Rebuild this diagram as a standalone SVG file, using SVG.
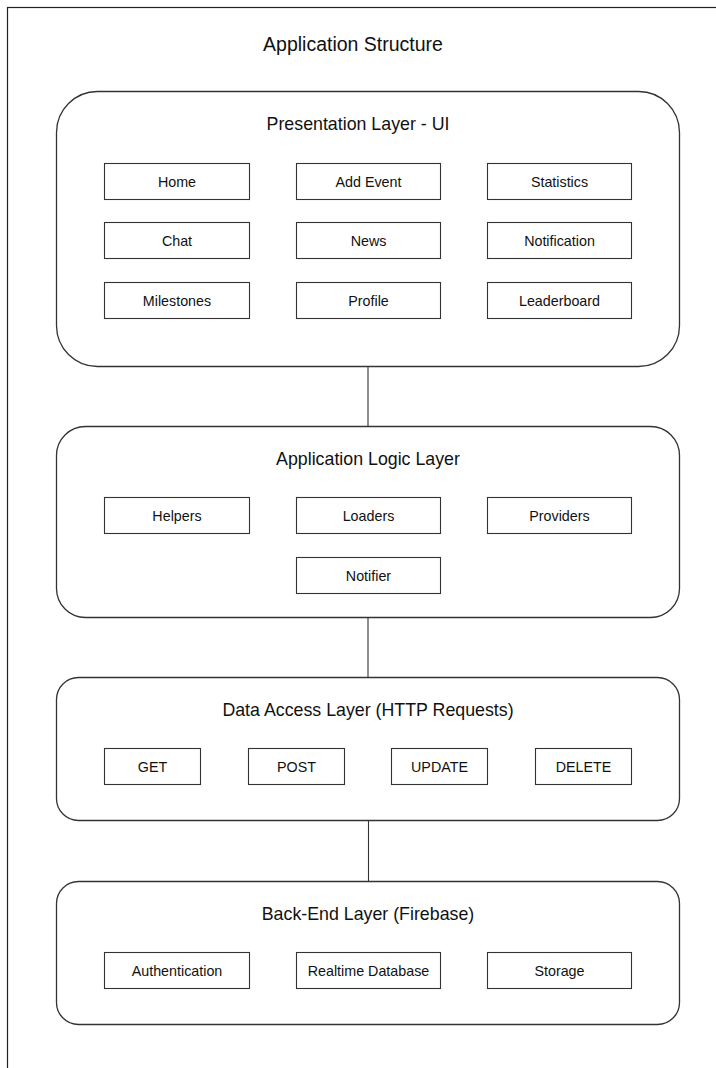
<svg xmlns="http://www.w3.org/2000/svg" width="716" height="1068" viewBox="0 0 716 1068">
  <style>
    .frame { fill: none; stroke: #222; stroke-width: 1.2; }
    .layer { fill: #fff; stroke: #333; stroke-width: 1.3; }
    .box { fill: #fff; stroke: #333; stroke-width: 1.1; }
    .conn { fill: none; stroke: #333; stroke-width: 1.1; }
    text { font-family: "Liberation Sans", Arial, sans-serif; fill: #111; text-anchor: middle; dominant-baseline: central; }
    .title { font-size: 19.5px; }
    .ltitle { font-size: 17.8px; }
    .lbl { font-size: 14.3px; }
  </style>

  <rect x="0" y="0" width="716" height="1068" fill="#fff"/>
  <!-- outer frame, extends past the right and bottom edges -->
  <rect class="frame" x="7.5" y="7.5" width="760" height="1100"/>
  <text class="title" x="353" y="44">Application Structure</text>

  <g id="connectors">
    <line class="conn" x1="368" y1="367" x2="368" y2="426"/>
    <line class="conn" x1="368" y1="617" x2="368" y2="677"/>
    <line class="conn" x1="368.5" y1="821" x2="368.5" y2="881"/>
  </g>

  <g id="presentation-layer">
    <rect class="layer" x="56.5" y="91.5" width="623" height="275" rx="41" ry="41"/>
    <text class="ltitle" x="358" y="124">Presentation Layer - UI</text>
    <g id="home"><rect class="box" x="104.5" y="163.5" width="145" height="36"/><text class="lbl" x="177" y="181.5">Home</text></g>
    <g id="add-event"><rect class="box" x="296.5" y="163.5" width="144" height="36"/><text class="lbl" x="368.5" y="181.5">Add Event</text></g>
    <g id="statistics"><rect class="box" x="487.5" y="163.5" width="144" height="36"/><text class="lbl" x="559.5" y="181.5">Statistics</text></g>
    <g id="chat"><rect class="box" x="104.5" y="222.5" width="145" height="36"/><text class="lbl" x="177" y="240.5">Chat</text></g>
    <g id="news"><rect class="box" x="296.5" y="222.5" width="144" height="36"/><text class="lbl" x="368.5" y="240.5">News</text></g>
    <g id="notification"><rect class="box" x="487.5" y="222.5" width="144" height="36"/><text class="lbl" x="559.5" y="240.5">Notification</text></g>
    <g id="milestones"><rect class="box" x="104.5" y="282.5" width="145" height="36"/><text class="lbl" x="177" y="300.5">Milestones</text></g>
    <g id="profile"><rect class="box" x="296.5" y="282.5" width="144" height="36"/><text class="lbl" x="368.5" y="300.5">Profile</text></g>
    <g id="leaderboard"><rect class="box" x="487.5" y="282.5" width="144" height="36"/><text class="lbl" x="559.5" y="300.5">Leaderboard</text></g>
  </g>

  <g id="logic-layer">
    <rect class="layer" x="56.5" y="426.5" width="623" height="191" rx="29" ry="29"/>
    <text class="ltitle" x="368" y="459">Application Logic Layer</text>
    <g id="helpers"><rect class="box" x="104.5" y="497.5" width="145" height="36"/><text class="lbl" x="177" y="515.5">Helpers</text></g>
    <g id="loaders"><rect class="box" x="296.5" y="497.5" width="144" height="36"/><text class="lbl" x="368.5" y="515.5">Loaders</text></g>
    <g id="providers"><rect class="box" x="487.5" y="497.5" width="144" height="36"/><text class="lbl" x="559.5" y="515.5">Providers</text></g>
    <g id="notifier"><rect class="box" x="296.5" y="557.5" width="144" height="36"/><text class="lbl" x="368.5" y="575.5">Notifier</text></g>
  </g>

  <g id="data-access-layer">
    <rect class="layer" x="56.5" y="677.5" width="623" height="143" rx="22" ry="22"/>
    <text class="ltitle" x="368" y="710">Data Access Layer (HTTP Requests)</text>
    <g id="get"><rect class="box" x="104.5" y="748.5" width="96" height="36"/><text class="lbl" x="152.5" y="766.5">GET</text></g>
    <g id="post"><rect class="box" x="248.5" y="748.5" width="96" height="36"/><text class="lbl" x="296.5" y="766.5">POST</text></g>
    <g id="update"><rect class="box" x="391.5" y="748.5" width="96" height="36"/><text class="lbl" x="439.5" y="766.5">UPDATE</text></g>
    <g id="delete"><rect class="box" x="535.5" y="748.5" width="96" height="36"/><text class="lbl" x="583.5" y="766.5">DELETE</text></g>
  </g>

  <g id="backend-layer">
    <rect class="layer" x="56.5" y="881.5" width="623" height="143" rx="22" ry="22"/>
    <text class="ltitle" x="368" y="914">Back-End Layer (Firebase)</text>
    <g id="authentication"><rect class="box" x="104.5" y="952.5" width="145" height="36"/><text class="lbl" x="177" y="970.5">Authentication</text></g>
    <g id="realtime-database"><rect class="box" x="296.5" y="952.5" width="144" height="36"/><text class="lbl" x="368.5" y="970.5">Realtime Database</text></g>
    <g id="storage"><rect class="box" x="487.5" y="952.5" width="144" height="36"/><text class="lbl" x="559.5" y="970.5">Storage</text></g>
  </g>
</svg>
